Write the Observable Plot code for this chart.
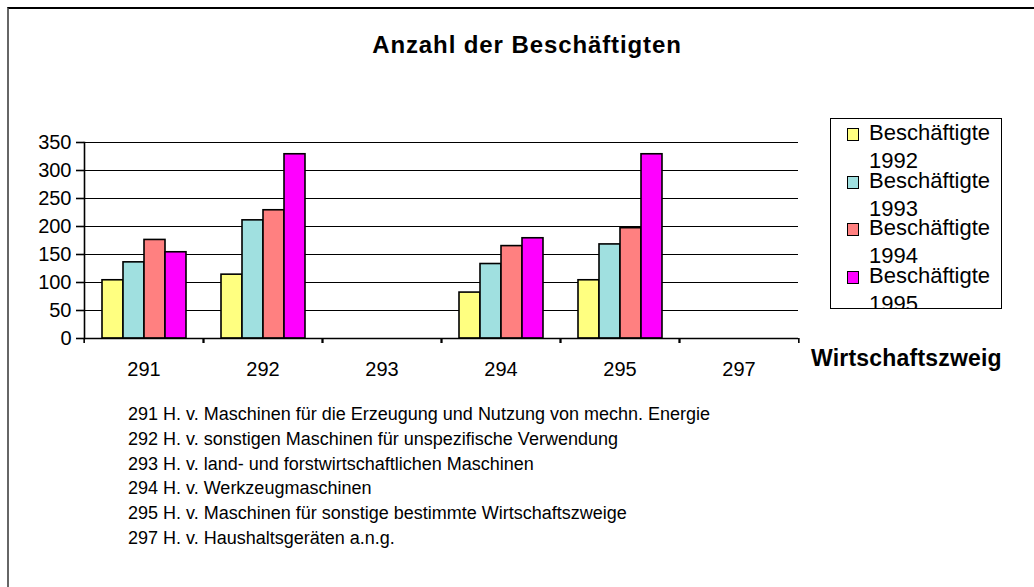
<!DOCTYPE html>
<html>
<head>
<meta charset="utf-8">
<script src="https://cdn.jsdelivr.net/npm/d3@7"></script>
<script src="https://cdn.jsdelivr.net/npm/@observablehq/plot@0.6"></script>
<style>
  html, body { margin: 0; padding: 0; background: #fff; }
  body { font-family: "Liberation Sans", Arial, sans-serif; color: #000; }
  #page { position: relative; width: 1034px; height: 587px; overflow: hidden; background: #fff; }
  #frame { position: absolute; left: 7px; top: 7px; width: 2000px; height: 2000px;
           border-left: 2px solid #666; border-top: 2px solid #000; }
  #title { position: absolute; left: 0; top: 30px; width: 1054px; text-align: center;
           font-weight: bold; font-size: 24px; line-height: 30px; letter-spacing: 0.9px; }
  #chart { position: absolute; left: 0; top: 0; }
  #xlabel { position: absolute; left: 811px; top: 345px; font-weight: bold; font-size: 23px;
            line-height: 26px; letter-spacing: 0.2px; white-space: nowrap; }
  #legend { position: absolute; left: 830px; top: 118px; width: 170px; height: 189px;
            border: 1.5px solid #000; overflow: hidden; background: #fff; }
  .entry { position: absolute; left: 0; width: 170px; height: 47px; }
  .swatch { position: absolute; left: 16px; top: 9px; width: 10px; height: 11px;
            border: 1.5px solid #000; }
  .ltext { position: absolute; left: 38px; top: 0; width: 128px; height: 47px; overflow: visible;
           font-size: 22px; line-height: 28px; }
  #notes { position: absolute; left: 128px; top: 402px; font-size: 18px; line-height: 24.8px;
           white-space: nowrap; }
</style>
</head>
<body>
<div id="page">
  <div id="frame"></div>
  <div id="title"></div>
  <div id="chart"></div>
  <div id="xlabel"></div>
  <div id="legend"></div>
  <div id="notes"></div>
</div>
<script>
// ---- data ----
const titleText = "Anzahl der Beschäftigten";
const xAxisLabel = "Wirtschaftszweig";
const categories = ["291", "292", "293", "294", "295", "297"];
const seriesNames = ["Beschäftigte 1992", "Beschäftigte 1993", "Beschäftigte 1994", "Beschäftigte 1995"];
const seriesColors = ["#FFFF80", "#A0E0E0", "#FF8080", "#FF00FF"];
const values1992 = [104, 114, null, 82, 104, null];
const values1993 = [136, 211, null, 133, 168, null];
const values1994 = [176, 229, null, 165, 197, null];
const values1995 = [154, 329, null, 179, 329, null];
const yTicks = [0, 50, 100, 150, 200, 250, 300, 350];
const notes = [
  "291 H. v. Maschinen für die Erzeugung und Nutzung von mechn. Energie",
  "292 H. v. sonstigen Maschinen für unspezifische Verwendung",
  "293 H. v. land- und forstwirtschaftlichen Maschinen",
  "294 H. v. Werkzeugmaschinen",
  "295 H. v. Maschinen für sonstige bestimmte Wirtschaftszweige",
  "297 H. v. Haushaltsgeräten a.n.g."
];

const seriesValues = [values1992, values1993, values1994, values1995];
const rows = [];
categories.forEach((c, i) => {
  seriesNames.forEach((s, j) => {
    rows.push({category: c, series: s, value: seriesValues[j][i]});
  });
});

const W = 1034, H = 400;
const mL = 82, mR = 234, mT = 142, mB = 62;
const band = (W - mL - mR) / categories.length;

const chart = Plot.plot({
  width: W,
  height: H,
  marginLeft: mL,
  marginRight: mR,
  marginTop: mT,
  marginBottom: mB,
  style: {fontFamily: "'Liberation Sans', Arial, sans-serif", color: "#000", background: "transparent", overflow: "visible"},
  facet: {data: rows, x: "category"},
  fx: {domain: categories, padding: 0, label: null},
  x: {domain: seriesNames, paddingInner: 0, paddingOuter: 0.727, axis: null},
  y: {domain: [0, 350], label: null},
  color: {domain: seriesNames, range: seriesColors},
  marks: [
    Plot.gridY(yTicks, {stroke: "#000", strokeOpacity: 1, strokeWidth: 1}),
    Plot.barY(rows, {fx: "category", x: "series", y: "value", fill: "series",
      stroke: "#000", strokeWidth: 1.6, inset: 0}),
    Plot.ruleY([0], {stroke: "#000", strokeWidth: 1.6}),
    Plot.frame({anchor: "left", facetAnchor: "left", stroke: "#000", strokeWidth: 1.6}),
    Plot.axisY(yTicks, {tickSize: 8, tickPadding: 5, fontSize: 20, label: null, stroke: "#000", strokeWidth: 1.6}),
    Plot.axisFx({anchor: "bottom", text: null, tickSize: 5, dx: -band / 2, stroke: "#000", strokeWidth: 1.6, label: null}),
    Plot.axisFx([categories[categories.length - 1]], {anchor: "bottom", text: null, tickSize: 5, dx: band / 2, stroke: "#000", strokeWidth: 1.6, label: null}),
    Plot.axisFx({anchor: "bottom", tickSize: 0, tickPadding: 23, fontSize: 20, label: null})
  ]
});
document.getElementById("chart").appendChild(chart);

document.getElementById("title").textContent = titleText;
document.getElementById("xlabel").textContent = xAxisLabel;

const legend = document.getElementById("legend");
seriesNames.forEach((s, i) => {
  const e = document.createElement("div");
  e.className = "entry";
  e.style.top = (i * 47.6) + "px";
  const sw = document.createElement("div");
  sw.className = "swatch";
  sw.style.background = seriesColors[i];
  const t = document.createElement("div");
  t.className = "ltext";
  t.textContent = s;
  e.appendChild(sw);
  e.appendChild(t);
  legend.appendChild(e);
});

const notesEl = document.getElementById("notes");
notes.forEach(n => {
  const d = document.createElement("div");
  d.textContent = n;
  notesEl.appendChild(d);
});
</script>
</body>
</html>
